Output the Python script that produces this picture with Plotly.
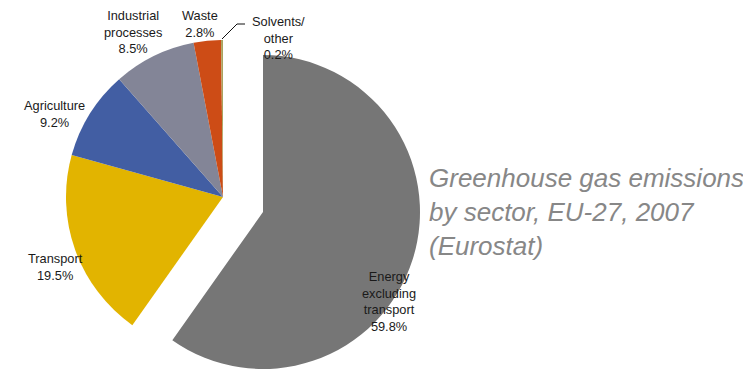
import plotly.graph_objects as go

# ---- data ----
sectors = ["Energy excluding transport", "Transport", "Agriculture",
           "Industrial processes", "Waste", "Solvents/ other"]
label_text = ["Energy<br>excluding<br>transport", "Transport", "Agriculture",
              "Industrial<br>processes", "Waste", "Solvents/<br>other"]
shares = [59.8, 19.5, 9.2, 8.5, 2.8, 0.2]
colors = ["#767676", "#E2B400", "#425EA3", "#838597", "#CD4C16", "#A9A35E"]
title_lines = ["Greenhouse gas emissions", "by sector, EU-27, 2007", "(Eurostat)"]

OFF = 8  # page body margin
W, H = 751 - OFF, 371 - OFF

def px(x, y):
    return (x - OFF) / W, 1 - (y - OFF) / H

def px_dom(x0, x1, y0, y1):
    a0, b1 = px(x0, y1)
    a1, b0 = px(x1, y0)
    return dict(x=[a0, a1], y=[b1, b0])

# main pie (energy slice hidden) and exploded energy slice
main_colors = ["rgba(0,0,0,0)"] + colors[1:]
energy_colors = [colors[0]] + ["rgba(0,0,0,0)"] * (len(colors) - 1)

fig = go.Figure()
common = dict(labels=sectors, values=shares, sort=False, direction="clockwise",
              rotation=0, textinfo="none", hoverinfo="label+percent",
              showlegend=False)
fig.add_trace(go.Pie(domain=px_dom(66, 380, 40, 354),
                     marker=dict(colors=main_colors, line=dict(width=0)), **common))
fig.add_trace(go.Pie(domain=px_dom(106, 420, 55, 369),
                     marker=dict(colors=energy_colors, line=dict(width=0)), **common))

# label positions (pixels)
label_pos = [(389, 301), (55, 267), (54, 114), (133, 32), (200, 24), (278, 38)]
lab_font = dict(family="Liberation Sans, Arial, sans-serif", size=12.8, color="#1a1a1a")
for txt, v, (lx, ly) in zip(label_text, shares, label_pos):
    ax, ay = px(lx, ly)
    fig.add_annotation(x=ax, y=ay, xref="paper", yref="paper",
                       text=f"{txt}<br>{v}%", showarrow=False, align="center",
                       xanchor="center", yanchor="middle", font=lab_font,
                       borderpad=0)

# leader line for Solvents/other
p1, p2, p3 = px(222, 39), px(237, 24), px(245, 24)
fig.add_shape(type="path", xref="paper", yref="paper",
              path=f"M {p1[0]},{p1[1]} L {p2[0]},{p2[1]} L {p3[0]},{p3[1]}",
              line=dict(color="#111111", width=1))

tx, ty = px(427, 212)
fig.add_annotation(x=tx, y=ty, xref="paper", yref="paper",
                   text="<br>".join(title_lines), showarrow=False, align="left",
                   xanchor="left", yanchor="middle",
                   font=dict(family="Liberation Sans, Arial, sans-serif", size=26,
                             color="#878787", style="italic"))

fig.update_layout(width=W, height=H, margin=dict(l=0, r=0, t=0, b=0),
                  paper_bgcolor="white", plot_bgcolor="white")
fig.write_html("out.html")
